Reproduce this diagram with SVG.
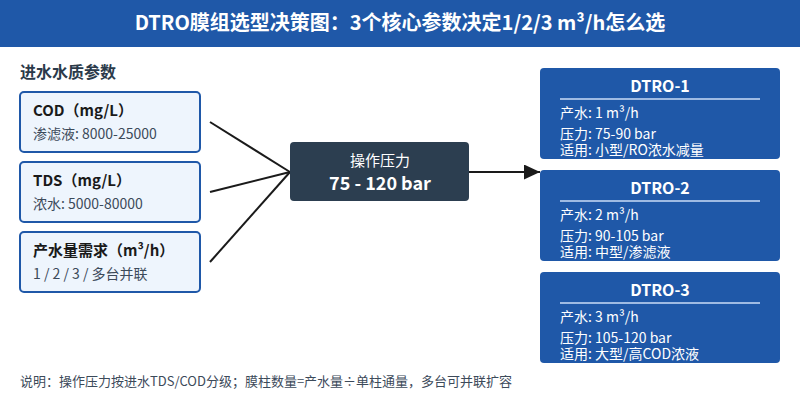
<svg xmlns="http://www.w3.org/2000/svg" width="800" height="400" viewBox="0 0 800 400">
<defs>
<style>
text{font-family:"Noto Sans CJK SC","Noto Sans",sans-serif}
.in{fill:#eef5fd;stroke:#1f58a8;stroke-width:2}
.ih{font-size:15px;font-weight:bold;fill:#1a1a1a}
.is{font-size:14px;fill:#3c4a5a}
.out{fill:#1f58a8}
.oh{font-size:16px;font-weight:bold;fill:#fff;text-anchor:middle}
.os{font-size:14px;fill:#fff}
.sep{stroke:#9fbbe3;stroke-width:2}
.ln{stroke:#1a1a1a;stroke-width:2;fill:none}
</style>
<marker id="ah" markerWidth="16" markerHeight="15" refX="16" refY="7.5" orient="auto" markerUnits="userSpaceOnUse">
<path d="M0,0 L16,7.5 L0,15 Z" fill="#1a1a1a"/>
</marker>
</defs>
<rect x="0" y="0" width="800" height="47" fill="#1f58a8"/>
<text x="400" y="30" font-size="20" font-weight="bold" fill="#fff" text-anchor="middle">DTRO膜组选型决策图：3个核心参数决定1/2/3 m³/h怎么选</text>
<text x="20" y="78" font-size="16" font-weight="bold" fill="#2b3a4a">进水水质参数</text>
<g id="connectors">
<line class="ln" x1="210" y1="122" x2="290" y2="172"/>
<line class="ln" x1="210" y1="192" x2="290" y2="172"/>
<line class="ln" x1="210" y1="262" x2="290" y2="172"/>
<line class="ln" x1="469" y1="172" x2="540" y2="172" marker-end="url(#ah)"/>
</g>
<g id="cod">
<rect class="in" x="20" y="92" width="180" height="60" rx="4"/>
<text class="ih" x="33" y="116">COD（mg/L）</text>
<text class="is" x="33" y="139">渗滤液: 8000-25000</text>
</g>
<g id="tds">
<rect class="in" x="20" y="162" width="180" height="60" rx="4"/>
<text class="ih" x="33" y="186">TDS（mg/L）</text>
<text class="is" x="33" y="209">浓水: 5000-80000</text>
</g>
<g id="flow">
<rect class="in" x="20" y="232" width="180" height="60" rx="4"/>
<text class="ih" x="33" y="256">产水量需求（m³/h）</text>
<text class="is" x="33" y="279">1 / 2 / 3 / 多台并联</text>
</g>
<g id="pressure">
<rect x="290" y="142" width="179" height="59" rx="4" fill="#2c3e50"/>
<text x="380" y="166" font-size="15" fill="#fff" text-anchor="middle">操作压力</text>
<text x="380" y="190" font-size="18" font-weight="bold" fill="#fff" text-anchor="middle">75 - 120 bar</text>
</g>
<g id="dtro1">
<rect class="out" x="540" y="68" width="240" height="91" rx="4"/>
<text class="oh" x="660" y="92">DTRO-1</text>
<line class="sep" x1="560" y1="99" x2="760" y2="99"/>
<text class="os" x="560" y="118">产水: 1 m³/h</text>
<text class="os" x="560" y="139">压力: 75-90 bar</text>
<text class="os" x="560" y="155">适用: 小型/RO浓水减量</text>
</g>
<g id="dtro2">
<rect class="out" x="540" y="170" width="240" height="91" rx="4"/>
<text class="oh" x="660" y="194">DTRO-2</text>
<line class="sep" x1="560" y1="201" x2="760" y2="201"/>
<text class="os" x="560" y="220">产水: 2 m³/h</text>
<text class="os" x="560" y="241">压力: 90-105 bar</text>
<text class="os" x="560" y="257">适用: 中型/渗滤液</text>
</g>
<g id="dtro3">
<rect class="out" x="540" y="272" width="240" height="91" rx="4"/>
<text class="oh" x="660" y="296">DTRO-3</text>
<line class="sep" x1="560" y1="303" x2="760" y2="303"/>
<text class="os" x="560" y="322">产水: 3 m³/h</text>
<text class="os" x="560" y="343">压力: 105-120 bar</text>
<text class="os" x="560" y="359">适用: 大型/高COD浓液</text>
</g>
<text x="20" y="386" font-size="13" fill="#3c4a5a">说明：操作压力按进水TDS/COD分级；膜柱数量=产水量÷单柱通量，多台可并联扩容</text>
</svg>
